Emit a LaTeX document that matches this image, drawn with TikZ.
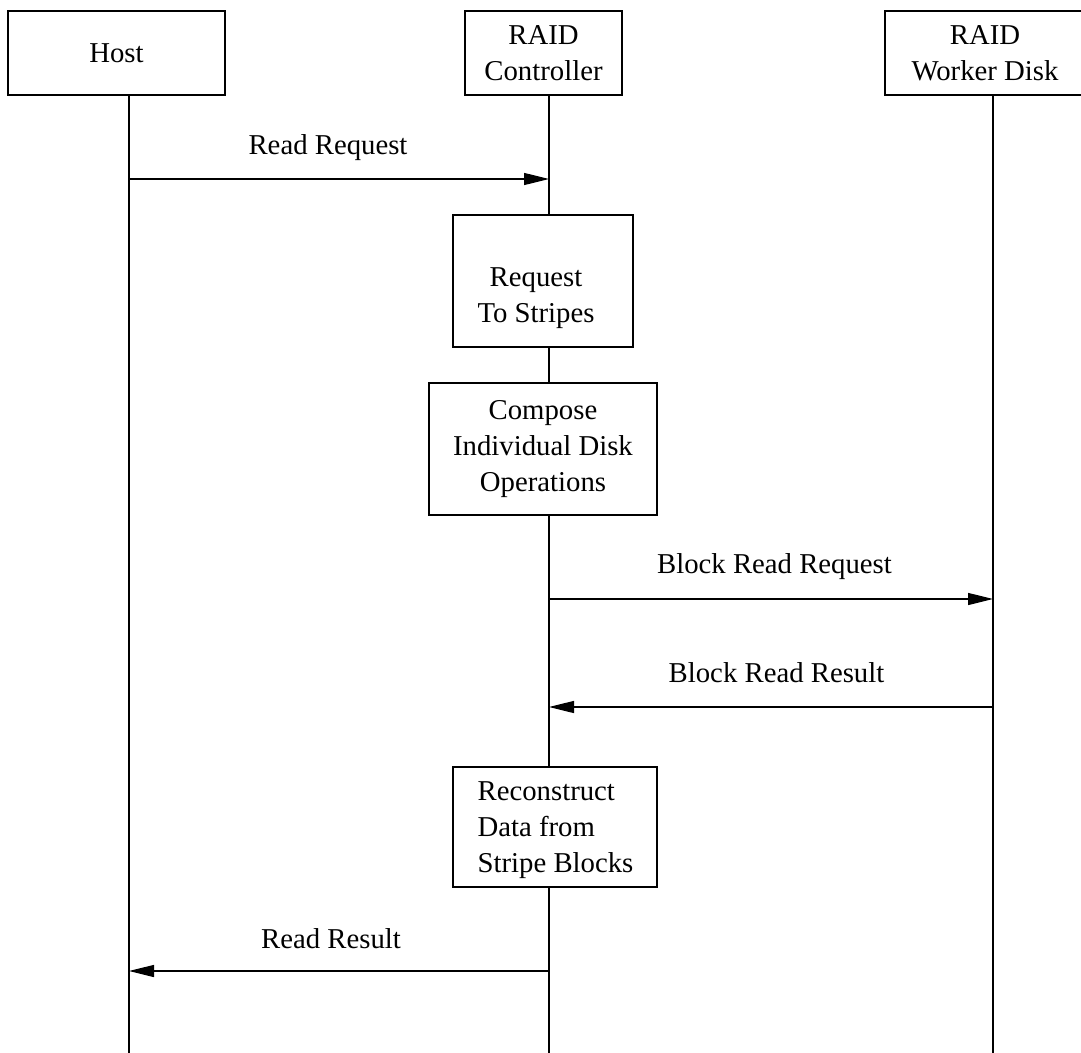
\documentclass[tikz,border=0pt]{standalone}
\usepackage{fontspec}
\setmainfont{Liberation Serif}
\usetikzlibrary{arrows.meta}
\begin{document}
\begin{tikzpicture}[x=0.4pt,y=-0.4pt,
  font=\fontsize{11.5pt}{14.4pt}\selectfont,
  line width=0.5pt,
  sz/.style 2 args={minimum width=#1*0.4pt, minimum height=#2*0.4pt},
  box/.style={draw, rectangle, inner sep=0pt, align=center},
  txt/.style={inner sep=0pt, align=center},
  msg/.style={-{Triangle[length=10pt,width=4.8pt]}},
]
\path[use as bounding box] (0,0) rectangle (1081,1053);
\clip (0,0) rectangle (1081,1053);

% participants
\node[box, sz={217}{84}] (host) at (116.5,53) {Host};
\node[box, sz={157}{84}] (ctrl) at (543.5,53) {RAID\\Controller};
\node[box, sz={200}{84}] (work) at (985,53) {RAID\\Worker Disk};

% lifeline ends
\coordinate (hEnd) at (129,1053);
\coordinate (cEnd) at (549,1053);
\coordinate (wEnd) at (993,1053);

% controller activities
\node[box, sz={180}{132}] (req) at (543,281) {};
\node[txt] (reqtext) at (536,298) {Request\\To Stripes};
\node[box, sz={228}{132}] (cmp) at (543,449) {Compose\\Individual Disk\\Operations};
\node[box, sz={204}{120}] (rec) at (555,827) {};
\node[txt, align=left, anchor=west] (rectext) at (477,830) {Reconstruct\\Data from\\Stripe Blocks};

% lifelines
\draw (host.south -| hEnd) -- (hEnd);
\draw (ctrl.south -| cEnd) -- (req.north -| cEnd);
\draw (req.south -| cEnd) -- (cmp.north -| cEnd);
\draw (cmp.south -| cEnd) -- (rec.north -| cEnd);
\draw (rec.south -| cEnd) -- (cEnd);
\draw (work.south -| wEnd) -- (wEnd);

% messages
\draw[msg] (hEnd |- 0,179) -- (cEnd |- 0,179);
\node[txt] (l1) at (328,148) {Read Request};
\draw[msg] (cEnd |- 0,599) -- (wEnd |- 0,599);
\node[txt] (l2) at (774.5,567) {Block Read Request};
\draw[msg] (wEnd |- 0,707) -- (cEnd |- 0,707);
\node[txt] (l3) at (776.5,673) {Block Read Result};
\draw[msg] (cEnd |- 0,971) -- (hEnd |- 0,971);
\node[txt] (l4) at (331,939) {Read Result};
\end{tikzpicture}
\end{document}
